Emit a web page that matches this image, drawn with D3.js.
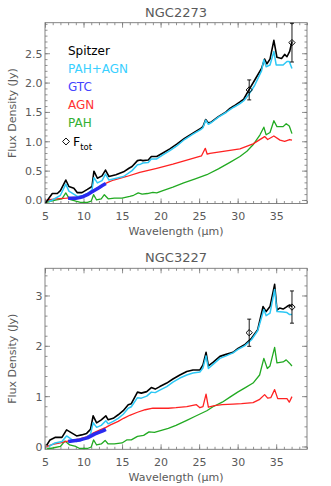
<!DOCTYPE html>
<html>
<head>
<meta charset="utf-8">
<script src="https://cdn.jsdelivr.net/npm/d3@7"></script>
<style>
  body { margin: 0; background: #fff; }
  text { font-family: "DejaVu Sans", Verdana, sans-serif; fill: #5a5a5a; }
</style>
</head>
<body>
<svg id="chart" width="331" height="486"></svg>
<script>
// ---- NGC2273 ----
var n2273_spitzer = [[5.1,-0.05],[5.5,0.03],[5.95,0.11],[6.6,0.11],[7.0,0.16],[7.7,0.34],[8.1,0.23],[8.75,0.2],[9.2,0.125],[9.8,0.125],[10.5,0.18],[11.1,0.23],[11.35,0.49],[11.8,0.37],[12.4,0.41],[12.85,0.51],[13.3,0.4],[14.2,0.43],[15.2,0.48],[15.9,0.54],[16.3,0.57],[17.0,0.67],[17.4,0.68],[17.7,0.67],[18.4,0.68],[18.8,0.74],[19.5,0.74],[20.3,0.8],[21.2,0.87],[22.1,0.95],[23.1,1.05],[24.2,1.14],[25.2,1.22],[25.5,1.25],[25.85,1.37],[26.2,1.31],[26.6,1.33],[27.5,1.42],[28.5,1.5],[29.0,1.56],[29.5,1.6],[30.3,1.67],[30.8,1.72],[31.35,1.85],[32.2,2.04],[33.1,2.24],[33.5,2.4],[33.8,2.32],[34.2,2.4],[34.7,2.72],[35.1,2.43],[35.7,2.41],[36.1,2.48],[36.4,2.44],[36.75,2.53],[37.05,2.7]];
var n2273_pahagn = [[5.5,-0.03],[5.95,0.0],[7.0,0.08],[7.7,0.27],[8.1,0.15],[9.2,0.06],[9.8,0.07],[10.5,0.11],[11.1,0.17],[11.35,0.38],[11.8,0.29],[12.4,0.33],[12.85,0.44],[13.3,0.34],[15.2,0.4],[16.3,0.5],[17.0,0.6],[17.4,0.61],[17.7,0.63],[18.4,0.64],[18.8,0.7],[19.5,0.7],[20.3,0.77],[21.2,0.84],[22.1,0.92],[23.1,1.03],[24.2,1.12],[25.2,1.2],[25.5,1.23],[25.85,1.36],[26.2,1.29],[26.6,1.32],[27.5,1.41],[28.5,1.49],[29.0,1.54],[29.5,1.58],[30.3,1.64],[30.8,1.69],[31.35,1.78],[32.2,1.95],[33.1,2.2],[33.4,2.39],[33.7,2.27],[34.2,2.3],[34.7,2.53],[35.0,2.3],[35.9,2.3],[36.4,2.36],[36.7,2.36],[37.05,2.24]];
var n2273_gtc = [[8.0,0.03],[8.5,0.03],[9.0,0.03],[9.5,0.04],[10.0,0.06],[10.5,0.09],[11.0,0.13],[11.5,0.17],[12.0,0.21],[12.5,0.25],[12.9,0.28]];
var n2273_agn = [[5.2,0.0],[6.5,0.02],[7.8,0.03],[9.0,0.05],[10.0,0.07],[11.0,0.14],[12.1,0.23],[13.0,0.29],[13.9,0.34],[15.6,0.4],[17.3,0.47],[19.5,0.54],[21.6,0.61],[23.4,0.68],[25.3,0.75],[25.8,0.88],[26.05,0.78],[26.4,0.795],[27.7,0.82],[30.3,0.87],[32.0,0.955],[33.5,1.08],[33.9,1.03],[34.7,1.09],[35.5,1.02],[36.1,1.0],[36.75,1.03],[37.05,1.02]];
var n2273_pah = [[5.2,-0.04],[5.8,-0.02],[6.5,0.0],[7.2,0.02],[7.7,0.12],[8.2,0.01],[9.0,-0.02],[9.6,-0.04],[10.5,-0.04],[11.0,-0.02],[11.3,0.09],[11.7,0.0],[12.3,0.02],[12.7,0.09],[13.2,0.02],[14.0,0.03],[15.0,0.03],[16.0,0.06],[16.5,0.08],[17.1,0.12],[17.6,0.1],[18.3,0.11],[19.0,0.13],[19.5,0.12],[20.3,0.16],[21.6,0.22],[23.0,0.29],[24.5,0.36],[26.0,0.43],[27.5,0.53],[29.0,0.64],[30.3,0.74],[31.2,0.83],[32.0,0.94],[32.9,1.11],[33.4,1.24],[33.7,1.11],[34.2,1.15],[34.7,1.35],[35.1,1.25],[35.9,1.25],[36.3,1.3],[36.7,1.26],[37.05,1.13]];
var n2273_ftot = [[31.5,1.875,0.17],[37.05,2.68,0.33]];

// ---- NGC3227 ----
var n3227_spitzer = [[5.2,0.02],[5.65,0.13],[6.3,0.18],[7.2,0.18],[7.8,0.33],[8.45,0.27],[9.1,0.21],[9.75,0.23],[10.4,0.26],[10.9,0.34],[11.25,0.61],[11.7,0.47],[12.3,0.53],[12.9,0.61],[13.2,0.53],[13.85,0.56],[14.5,0.63],[15.15,0.71],[15.8,0.83],[16.2,0.85],[17.0,1.08],[17.5,1.06],[18.2,1.09],[18.8,1.17],[19.3,1.14],[19.9,1.19],[20.8,1.26],[21.6,1.34],[22.5,1.42],[23.4,1.49],[24.2,1.52],[25.1,1.52],[25.5,1.62],[25.9,1.87],[26.2,1.6],[26.8,1.67],[27.7,1.79],[28.5,1.83],[29.4,1.87],[30.05,1.95],[30.9,2.02],[31.8,2.15],[32.6,2.32],[33.3,2.78],[33.7,2.68],[34.2,2.78],[34.8,3.22],[35.1,2.71],[35.45,2.75],[35.9,2.73],[36.4,2.78],[36.75,2.81],[37.05,2.78]];
var n3227_pahagn = [[5.5,0.0],[6.3,0.07],[7.2,0.1],[7.8,0.21],[8.45,0.14],[9.1,0.1],[9.75,0.13],[10.4,0.18],[10.9,0.24],[11.25,0.47],[11.7,0.38],[12.3,0.42],[12.9,0.51],[13.2,0.45],[13.85,0.5],[14.5,0.56],[15.15,0.64],[15.8,0.76],[16.2,0.79],[17.0,0.97],[17.5,0.96],[18.2,1.0],[18.8,1.08],[19.3,1.07],[19.9,1.12],[20.8,1.19],[21.6,1.28],[22.5,1.36],[23.4,1.42],[24.2,1.46],[25.1,1.48],[25.5,1.56],[25.9,1.8],[26.2,1.55],[26.8,1.63],[27.7,1.75],[28.5,1.8],[29.4,1.86],[30.05,1.93],[30.9,2.0],[31.8,2.12],[32.6,2.3],[33.4,2.72],[33.7,2.6],[34.2,2.65],[34.8,3.12],[35.1,2.68],[35.9,2.67],[36.4,2.66],[36.75,2.62],[37.05,2.62]];
var n3227_gtc = [[8.0,0.1],[8.5,0.11],[9.0,0.12],[9.5,0.13],[10.0,0.15],[10.5,0.17],[11.0,0.21],[11.5,0.25],[12.0,0.28],[12.5,0.31],[12.9,0.34]];
var n3227_agn = [[5.2,0.0],[6.0,0.04],[7.0,0.07],[7.8,0.1],[8.5,0.12],[9.5,0.15],[10.4,0.19],[11.3,0.27],[12.0,0.32],[12.9,0.38],[13.5,0.43],[14.5,0.5],[15.2,0.56],[16.0,0.62],[17.0,0.68],[18.0,0.73],[19.0,0.76],[20.0,0.76],[21.0,0.76],[22.0,0.77],[23.4,0.79],[24.65,0.83],[25.1,0.77],[25.5,0.79],[25.9,1.04],[26.2,0.78],[27.0,0.81],[28.0,0.83],[29.4,0.84],[30.5,0.85],[32.0,0.87],[32.8,0.93],[33.5,1.03],[33.9,0.96],[34.3,0.97],[34.8,1.13],[35.2,0.95],[35.9,0.95],[36.4,0.95],[36.7,0.88],[37.05,0.99]];
var n3227_pah = [[5.2,-0.05],[6.0,-0.03],[7.0,0.0],[7.6,0.11],[8.2,0.03],[9.0,0.0],[9.5,-0.04],[10.5,-0.04],[11.0,-0.01],[11.3,0.13],[11.7,0.03],[12.3,0.05],[12.8,0.12],[13.2,0.05],[14.0,0.05],[15.0,0.07],[15.6,0.13],[16.2,0.13],[17.0,0.2],[17.8,0.22],[18.5,0.29],[19.2,0.28],[20.1,0.32],[21.0,0.36],[22.0,0.42],[23.4,0.52],[24.5,0.6],[26.0,0.71],[26.8,0.79],[28.0,0.88],[29.0,0.98],[30.0,1.08],[31.0,1.17],[32.0,1.26],[32.85,1.42],[33.4,1.75],[33.85,1.55],[34.2,1.6],[34.8,1.97],[35.1,1.66],[35.9,1.68],[36.3,1.72],[36.7,1.66],[37.05,1.6]];
var n3227_ftot = [[31.5,2.26,0.27],[37.05,2.77,0.32]];

var xTicks = [5, 10, 15, 20, 25, 30, 35];
var yTicksTop = [0.0, 0.5, 1.0, 1.5, 2.0, 2.5];
var yTicksBottom = [0, 1, 2, 3];
var legendNames = ["Spitzer", "PAH+AGN", "GTC", "AGN", "PAH"];

var colors = {
  spitzer: "#000000",
  pahagn: "#2ec8f5",
  gtc: "#2a2af0",
  agn: "#ff2222",
  pah: "#22aa22"
};
var legendColors = ["#000000", "#3ad0ff", "#4444ff", "#ff3333", "#33b033"];

var svg = d3.select('#chart');

function drawPanel(cfg) {
  var g = svg.append('g');
  var x = d3.scaleLinear().domain([5, 39]).range([45, 307]);
  var y = d3.scaleLinear().domain(cfg.ydom).range([cfg.bottom, cfg.top]);

  // minor ticks
  var xMinor = d3.range(5, 40, 1);
  var yMinor = d3.range(Math.ceil(cfg.ydom[0] / cfg.yminor) * cfg.yminor, cfg.ydom[1], cfg.yminor);

  function tickAxes(axisFn, scale, pos, vals, size, fmt) {
    var a = axisFn(scale).tickValues(vals).tickSize(size).tickSizeOuter(0);
    a.tickFormat(fmt || '');
    var ga = g.append('g').attr('transform', pos).call(a);
    ga.select('.domain').remove();
    ga.selectAll('line').attr('stroke', '#777').attr('stroke-width', 0.8);
    return ga;
  }
  var b = 'translate(0,' + cfg.bottom + ')', t = 'translate(0,' + cfg.top + ')';
  var l = 'translate(45,0)', r = 'translate(307,0)';
  tickAxes(d3.axisBottom, x, b, xMinor, -2.5);
  tickAxes(d3.axisTop, x, t, xMinor, -2.5);
  tickAxes(d3.axisLeft, y, l, yMinor, -2.5);
  tickAxes(d3.axisRight, y, r, yMinor, -2.5);
  var xa = tickAxes(d3.axisBottom, x, b, xTicks, -5, d3.format('d'));
  tickAxes(d3.axisTop, x, t, xTicks, -5);
  var ya = tickAxes(d3.axisLeft, y, l, cfg.yticks, -5, cfg.yfmt);
  tickAxes(d3.axisRight, y, r, cfg.yticks, -5);

  xa.selectAll('text').attr('y', 9).attr('dy', '0.71em')
    .style('font-size', '11px').style('fill', '#5a5a5a').style('font-family', '"DejaVu Sans", Verdana, sans-serif');
  ya.selectAll('text').attr('x', -2.5).attr('dy', '0.36em')
    .style('font-size', '11px').style('fill', '#5a5a5a').style('font-family', '"DejaVu Sans", Verdana, sans-serif');

  g.append('rect')
    .attr('x', 45).attr('y', cfg.top)
    .attr('width', 262).attr('height', cfg.bottom - cfg.top)
    .attr('fill', 'none').attr('stroke', '#777').attr('stroke-width', 0.9);

  // titles
  g.append('text').attr('x', 176).attr('y', cfg.top - 6)
    .attr('text-anchor', 'middle').style('font-size', '13px').text(cfg.title);
  g.append('text').attr('x', 176).attr('y', cfg.bottom + 31.5)
    .attr('text-anchor', 'middle').style('font-size', '11px')
    .text('Wavelength (\u03bcm)');
  g.append('text')
    .attr('transform', 'translate(15.5,' + ((cfg.top + cfg.bottom) / 2) + ') rotate(-90)')
    .attr('text-anchor', 'middle').style('font-size', '11px')
    .text('Flux Density (Jy)');

  var clipId = 'clip' + cfg.title;
  svg.append('clipPath').attr('id', clipId).append('rect')
    .attr('x', 45).attr('y', cfg.top).attr('width', 262).attr('height', cfg.bottom - cfg.top);

  var line = d3.line().x(function(d){ return x(d[0]); }).y(function(d){ return y(d[1]); });
  var plot = g.append('g').attr('clip-path', 'url(#' + clipId + ')');

  var series = [
    {data: cfg.pah, color: colors.pah, w: 1.3},
    {data: cfg.agn, color: colors.agn, w: 1.3},
    {data: cfg.spitzer, color: colors.spitzer, w: 1.6},
    {data: cfg.pahagn, color: colors.pahagn, w: 1.5},
    {data: cfg.gtc, color: colors.gtc, w: 3.5}
  ];
  plot.selectAll('path.series')
    .data(series)
    .enter()
    .append('path')
    .attr('class', 'series')
    .attr('d', function(d){ return line(d.data); })
    .attr('fill', 'none')
    .attr('stroke', function(d){ return d.color; })
    .attr('stroke-width', function(d){ return d.w; })
    .attr('stroke-linejoin', 'round');

  // F_tot points with error bars
  var pts = g.append('g');
  cfg.ftot.forEach(function(d){
    var px = x(d[0]);
    var yTop = Math.max(y(d[1] + d[2]), cfg.top);
    pts.append('line').attr('x1', px).attr('x2', px)
      .attr('y1', yTop).attr('y2', y(d[1] - d[2]))
      .attr('stroke', '#000').attr('stroke-width', 0.9);
    [d[1] + d[2], d[1] - d[2]].forEach(function(v){
      if (y(v) < cfg.top) return;
      pts.append('line').attr('x1', px - 2).attr('x2', px + 2)
        .attr('y1', y(v)).attr('y2', y(v))
        .attr('stroke', '#000').attr('stroke-width', 0.9);
    });
    pts.append('path')
      .attr('d', d3.symbol().type(d3.symbolSquare).size(20)())
      .attr('transform', 'translate(' + px + ',' + y(d[1]) + ') rotate(45)')
      .attr('fill', 'none').attr('stroke', '#000').attr('stroke-width', 0.9);
  });

  // legend
  if (cfg.legend) {
    var lg = g.append('g');
    lg.selectAll('text.leg')
      .data(legendNames)
      .enter()
      .append('text')
      .attr('class', 'leg')
      .attr('x', 68)
      .attr('y', function(d, i){ return 54.5 + i * 18.2; })
      .style('font-size', '12px')
      .style('fill', function(d, i){ return legendColors[i]; })
      .text(function(d){ return d; });
    lg.append('path')
      .attr('d', d3.symbol().type(d3.symbolSquare).size(24)())
      .attr('transform', 'translate(66,141.5) rotate(45)')
      .attr('fill', 'none').attr('stroke', '#000').attr('stroke-width', 0.9);
    var ft = lg.append('text').attr('x', 73).attr('y', 146)
      .style('font-size', '12.5px').style('fill', '#000');
    ft.append('tspan').text('F');
    ft.append('tspan').attr('dy', 4).style('font-size', '8.5px').text('tot');
  }
}

drawPanel({
  title: 'NGC2273', top: 22.7, bottom: 203.5, ydom: [-0.06, 3.02],
  yticks: yTicksTop, yminor: 0.1, yfmt: d3.format('.1f'),
  spitzer: n2273_spitzer, pahagn: n2273_pahagn, gtc: n2273_gtc,
  agn: n2273_agn, pah: n2273_pah, ftot: n2273_ftot, legend: true
});
drawPanel({
  title: 'NGC3227', top: 268.3, bottom: 449.3, ydom: [-0.056, 3.54],
  yticks: yTicksBottom, yminor: 0.2, yfmt: d3.format('d'),
  spitzer: n3227_spitzer, pahagn: n3227_pahagn, gtc: n3227_gtc,
  agn: n3227_agn, pah: n3227_pah, ftot: n3227_ftot, legend: false
});
</script>
</body>
</html>
